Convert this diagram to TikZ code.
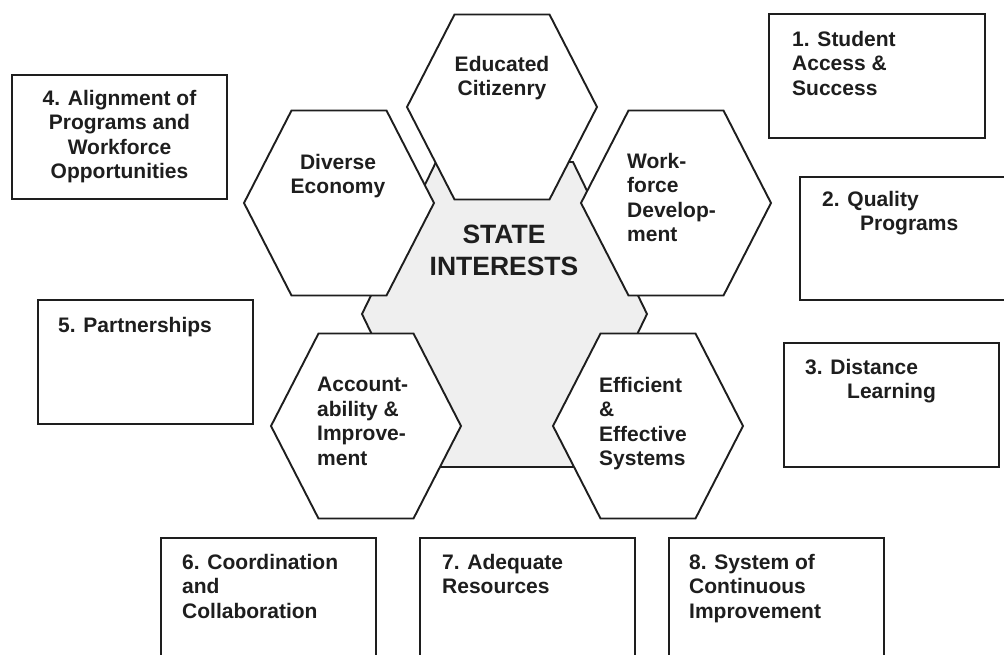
\documentclass[tikz,border=0pt]{standalone}
\usepackage{fontspec}
\setmainfont{Liberation Sans}
\definecolor{hexgray}{HTML}{EFEFEF}
\definecolor{ink}{HTML}{1E1E1E}
\tikzset{
  outline/.style={draw=ink, line width=1.9pt, line join=miter},
  hexline/.style={outline, fill=white},
  hexa/.pic={\path[hexline] (-95,0) -- (-47.5,-92.5) -- (47.5,-92.5) -- (95,0) -- (47.5,92.5) -- (-47.5,92.5) -- cycle;},
  boxline/.style={outline, fill=white},
  lbl/.style={text=ink, inner sep=0pt, font=\bfseries\fontsize{21}{24.5}\selectfont},
  lblL/.style={lbl, align=left, anchor=north west},
  lblC/.style={lbl, align=center, anchor=north},
}
\begin{document}
\begin{tikzpicture}[x=1pt,y=-1pt]
\useasboundingbox (0,0) rectangle (1004,654);
\clip (0,0) rectangle (1004,654);
\fill[white] (0,0) rectangle (1004,654);
% central hexagon
\path[outline, fill=hexgray] (362,314) -- (436,162) -- (573,162) -- (647,314) -- (573,467) -- (436,467) -- cycle;
% surrounding hexagons
\coordinate (hEdu) at (502,107);
\coordinate (hDiv) at (339,203);
\coordinate (hWrk) at (676,203);
\coordinate (hAcc) at (366,426);
\coordinate (hEff) at (648,426);
\pic at (hEdu) {hexa};
\pic at (hDiv) {hexa};
\pic at (hWrk) {hexa};
\pic at (hAcc) {hexa};
\pic at (hEff) {hexa};
\node[lbl, align=center, anchor=north, font=\bfseries\fontsize{26.5}{32}\selectfont] (state) at (504,225) {STATE\\INTERESTS};
\node[lblC] (tEdu) at (502,56) {Educated\\Citizenry};
\node[lblC] (tDiv) at (338,154) {Diverse\\Economy};
\node[lblL] (tWrk) at (627,153) {Work-\\force\\Develop-\\ment};
\node[lblL] (tAcc) at (317,377) {Account-\\ability \&\\Improve-\\ment};
\node[lblL] (tEff) at (599,377) {Efficient\\\&\\Effective\\Systems};
% boxes
\path[boxline] (769,14) rectangle (985,138);
\node[lblL] (b1) at (792,31) {1. Student\\Access \&\\Success};
\path[boxline] (800,177) rectangle (1012,300);
\node[lblL] (b2) at (822,191) {2. Quality\\\hspace*{38pt}Programs};
\path[boxline] (784,343) rectangle (999,467);
\node[lblL] (b3) at (805,359) {3. Distance\\\hspace*{42pt}Learning};
\path[boxline] (12,75) rectangle (227,199);
\node[lblC] (b4) at (119.5,90) {4. Alignment of\\Programs and\\Workforce\\Opportunities};
\path[boxline] (38,300) rectangle (253,424);
\node[lblL] (b5) at (58,317) {5. Partnerships};
\path[boxline] (161,538) rectangle (376,670);
\node[lblL] (b6) at (182,554) {6. Coordination\\and\\Collaboration};
\path[boxline] (420,538) rectangle (635,670);
\node[lblL] (b7) at (442,554) {7. Adequate\\Resources};
\path[boxline] (669,538) rectangle (884,670);
\node[lblL] (b8) at (689,554) {8. System of\\Continuous\\Improvement};
\end{tikzpicture}
\end{document}
